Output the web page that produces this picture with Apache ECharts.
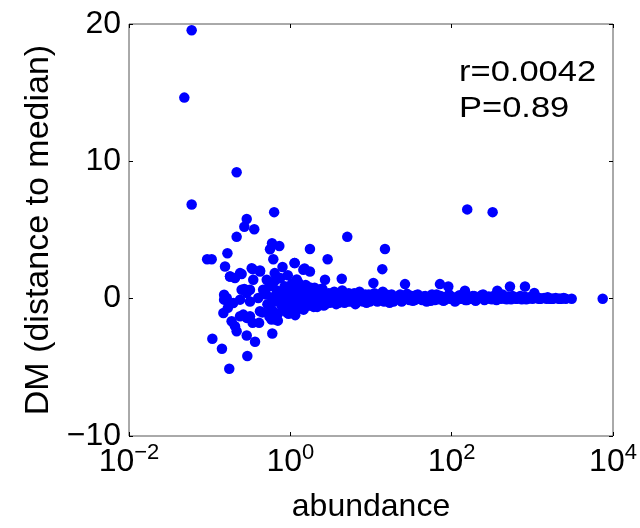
<!DOCTYPE html>
<html>
<head>
<meta charset="utf-8">
<script src="https://cdn.jsdelivr.net/npm/echarts@6/dist/echarts.min.js"></script>
<style>html,body{margin:0;padding:0;background:#fff}#c{width:640px;height:528px}</style>
</head>
<body>
<div id="c"></div>
<script>
// scattered points: abundance (x, log scale) and DM (distance to median)
var abundance = [
  0.0598, 0.0485, 0.216, 0.0598, 0.63, 0.288, 0.269, 0.357, 0.216, 5.08,
  0.593, 0.73, 0.56, 1.75, 14.9, 0.166, 0.093, 0.106, 2.9, 0.615,
  0.155, 1.13, 0.80, 13.8, 0.341, 0.421, 1.45, 1.75, 0.179, 0.206,
  0.249, 0.64, 0.66, 2.69, 4.34, 10.7, 0.316, 0.269, 0.151, 0.151,
  0.148, 0.168, 0.261, 0.316, 0.341, 0.41, 0.66, 0.187, 0.206, 0.216,
  0.597, 0.288, 0.365, 0.108, 0.142, 0.293, 0.175, 156, 322, 26.4,
  71.6, 90.8, 146, 368, 528, 811, 1057, 1507, 2128, 3076, 7450,
  0.179, 0.238, 0.332, 0.421, 0.347, 0.249, 0.288, 0.163, 0.196, 0.238,
  0.316, 0.40, 0.46, 0.51, 0.42, 0.238, 0.288, 0.585, 0.61, 1.5, 1.13,
  0.5, 0.52, 0.55, 0.58, 0.6, 0.62, 0.65, 0.68, 0.7, 0.72, 0.75, 0.78, 0.8, 0.82, 0.85, 0.88, 0.9, 0.93, 0.95, 0.98,
  1.0, 1.02, 1.05, 1.08, 1.1, 1.12, 1.15, 1.18, 1.2, 1.23, 1.26, 1.3, 1.33, 1.36, 1.4, 1.43, 1.46, 1.5, 1.55, 1.6,
  1.65, 1.7, 1.75, 1.8, 1.85, 1.9, 1.95, 2.0, 0.45, 0.55, 0.7, 0.9,
  2.1, 2.2, 2.3, 2.4, 2.5, 2.6, 2.8, 3.0, 3.1, 3.3, 3.5, 3.7, 3.9, 4.1, 4.4, 4.7, 5.0, 5.3, 5.6, 6.0,
  6.4, 6.8, 7.2, 7.7, 8.2, 8.8, 9.4, 10, 11, 12, 13, 14, 15, 16, 17, 18, 20, 22, 24, 26, 28, 30,
  32, 35, 38, 41, 45, 49, 53, 57, 62, 67, 73, 79, 86, 93, 100, 110, 120, 130, 142, 155,
  168, 182, 198, 215, 235, 255, 277, 300, 330, 360, 390, 425, 460, 500, 545, 600, 650, 710, 770, 840,
  920, 1000, 1100, 1200, 1300, 1650, 1800, 2300, 2600
];
var dm = [
  19.54, 14.64, 9.2, 6.86, 6.3, 5.8, 5.24, 5.05, 4.5, 4.5,
  4.03, 3.84, 3.6, 3.62, 3.62, 3.31, 2.87, 2.87, 2.87, 2.87,
  2.34, 2.59, 2.3, 2.15, 2.15, 2.05, 2.1, 1.98, 1.62, 1.5,
  1.79, 1.86, 1.38, 1.38, 1.45, 1.14, 0.65, 0.7, 0.29, -0.07,
  -1.04, -0.67, -1.16, -1.28, -1.76, -1.76, -1.52, -1.64, -2.0, -2.37,
  -2.54, -2.68, -3.14, -2.92, -3.65, -4.18, -5.1, 6.5, 6.3, 1.06,
  1.06, 0.89, 0.58, 0.58, 0.89, 0.89, 0.41, 0.0, 0.0, 0.0, 0.0,
  1.62, 1.86, 2.22, 1.98, 1.38, 0.65, 0.41, 0.05, -0.31, -0.07,
  -0.2, 0.05, 0.65, 1.38, -0.92, -1.28, -1.4, -1.52, -0.92, 2.2, 2.6,
  0.3, -0.4, 0.9, -0.8, 0.1, 1.2, -0.2, 0.6, -1.1, 0.2, 1.5, -0.5, 0.4, -0.1, 0.9, -0.7, 0.1, 1.7, -0.3, 0.5,
  -0.9, 0.2, 1.1, -0.4, 0.7, 0.0, -1.2, 0.3, 1.4, -0.2, 0.6, -0.6, 0.1, 0.9, -0.3, 0.4, -0.8, 0.2, 1.0, -0.1,
  0.5, -0.5, 0.15, 0.8, -0.3, 0.3, -0.6, 0.05, -1.0, -1.3, -1.6, -1.0,
  0.6, -0.4, 0.2, -0.2, 0.7, -0.5, 0.1, 0.4, -0.3, 0.0, 0.5, -0.4, 0.2, -0.1, 0.6, -0.3, 0.1, 0.4, -0.2, 0.3,
  -0.4, 0.0, 0.5, -0.1, 0.2, -0.3, 0.3, 0.0, 0.4, -0.2, 0.1, 0.5, -0.1, 0.2, -0.3, 0.3, 0.0, 0.2, -0.2, 0.1, 0.35, -0.1,
  0.2, -0.1, 0.3, 0.0, 0.15, -0.2, 0.1, 0.3, -0.1, 0.05, 0.2, -0.15, 0.1, 0.3, 0.0, -0.2, 0.15, 0.0, 0.3, -0.1,
  0.1, 0.2, -0.15, 0.05, 0.25, -0.1, 0.1, 0.0, 0.2, -0.1, 0.1, 0.3, 0.0, 0.15, -0.05, 0.1, 0.0, 0.2, 0.05, -0.05,
  0.1, 0.0, 0.05, 0.0, 0.02, 0.0, 0.0, 0.0, 0.0
];
// dense band of points near DM = 0
var bandAbundance = [
  1.01, 1.04, 1.07, 1.11, 1.14, 1.17, 1.21, 1.25, 1.28, 1.32, 1.35, 1.39, 1.42, 1.47, 1.52, 1.57, 1.62, 1.67, 1.72, 1.78,
  1.83, 1.88, 1.93, 1.98, 2.05, 2.15, 2.25, 2.35, 2.45, 2.55, 2.65, 2.75, 2.85, 2.95,
  3.2, 3.4, 3.6, 3.8, 4.0, 4.2, 4.5, 4.8, 5.1, 5.4, 5.8, 6.2, 6.6, 7.0, 7.5, 8.0, 8.5, 9.1, 9.7, 10.5,
  11.5, 12.5, 13.5, 14.5, 15.5, 16.5, 17.5, 19, 21, 23, 25, 27, 29,
  31, 33, 36, 39, 43, 47, 51, 55, 60, 65, 70, 76, 82, 89, 96, 105, 115, 125, 136, 148,
  160, 175, 190, 206, 225, 245, 265, 288, 315, 345, 375, 410, 445, 480, 520, 570, 620, 680, 740, 800,
  880, 960, 1050, 1150, 1250, 1400, 1550, 1750, 1950, 2200, 2450,
  1.3, 1.6, 2.0, 2.4, 0.95, 1.15
];
var bandDm = [
  0.4, -0.6, 0.8, -0.2, 0.5, -0.9, 0.1, 1.2, -0.4, 0.6, -0.1, 0.3, -0.7, 0.9, -0.3, 0.4, -0.5, 0.7, 0.0, -0.4,
  0.5, -0.2, 0.6, -0.3, 0.3, -0.6, 0.5, 0.0, -0.3, 0.4, 0.1, -0.4, 0.3, -0.1,
  0.3, -0.2, 0.1, 0.4, -0.3, 0.2, 0.0, 0.3, -0.2, 0.2, -0.1, 0.4, -0.3, 0.2, 0.0, -0.2, 0.3, 0.1, -0.2, 0.2,
  -0.1, 0.3, 0.0, -0.2, 0.3, 0.0, 0.2, -0.2, 0.1, 0.3, -0.1, 0.2, 0.0,
  0.1, -0.15, 0.25, 0.0, -0.1, 0.2, 0.0, -0.15, 0.15, 0.3, -0.05, 0.1, -0.1, 0.2, 0.0, 0.1, -0.1, 0.25, 0.0, -0.1,
  0.15, 0.0, 0.2, -0.05, 0.1, 0.3, 0.0, 0.15, -0.05, 0.1, 0.2, 0.0, 0.15, -0.05, 0.1, 0.2, 0.0, 0.1, -0.05, 0.15,
  0.0, 0.1, 0.05, 0.1, 0.0, 0.05, 0.1, 0.0, 0.05, 0.0, 0.05,
  1.0, 0.9, 0.8, 0.7, -1.1, -0.9
];
var statText = ['r=0.0042', 'P=0.89'];
var xName = 'abundance';
var yName = 'DM (distance to median)';

var points = abundance.map(function (a, i) { return [a, dm[i]]; })
  .concat(bandAbundance.map(function (a, i) { return [a, bandDm[i]]; }));
var FONT = 'Liberation Sans, Arial, Helvetica, sans-serif';

function expLabel(v) {
  var e = Math.round(Math.log(v) / Math.LN10);
  var s = e < 0 ? '\u2212' + (-e) : String(e);
  return '{b|10}{s|' + s + '}';
}

var chart = echarts.init(document.getElementById('c'), null, { renderer: 'canvas' });
chart.setOption({
  animation: false,
  backgroundColor: '#fff',
  grid: { left: 129, right: 27, top: 24, bottom: 89, show: true, borderColor: '#555', borderWidth: 1, backgroundColor: 'transparent' },
  xAxis: [{
    type: 'log', logBase: 10, min: 0.01, max: 10000, interval: 2,
    name: xName, nameLocation: 'middle', nameGap: 55,
    nameTextStyle: { fontFamily: FONT, fontSize: 32, color: '#000' },
    axisLine: { show: false, onZero: false },
    axisTick: { show: true, inside: true, length: 4, lineStyle: { color: '#000' } },
    minorTick: { show: false },
    splitLine: { show: false },
    axisLabel: {
      formatter: expLabel, margin: 6,
      rich: {
        b: { fontFamily: FONT, fontSize: 32, color: '#000', lineHeight: 36, verticalAlign: 'bottom' },
        s: { fontFamily: FONT, fontSize: 22, color: '#000', lineHeight: 36, verticalAlign: 'top', padding: [0, 0, 14, 0] }
      }
    }
  }, {
    type: 'log', logBase: 10, min: 0.01, max: 10000, interval: 2, position: 'top',
    axisLine: { show: false, onZero: false }, axisLabel: { show: false }, splitLine: { show: false },
    axisTick: { show: true, inside: true, length: 4, lineStyle: { color: '#000' } }
  }],
  yAxis: [{
    type: 'value', min: -10, max: 20, interval: 10,
    name: yName, nameLocation: 'middle', nameGap: 73, nameRotate: 90,
    nameTextStyle: { fontFamily: FONT, fontSize: 34, color: '#000' },
    axisLine: { show: false, onZero: false },
    axisTick: { show: true, inside: true, length: 4, lineStyle: { color: '#000' } },
    splitLine: { show: false },
    axisLabel: {
      fontFamily: FONT, fontSize: 32, color: '#000', margin: 8,
      formatter: function (v) { return String(v).replace('-', '\u2212'); }
    }
  }, {
    type: 'value', min: -10, max: 20, interval: 10, position: 'right',
    axisLine: { show: false, onZero: false }, axisLabel: { show: false }, splitLine: { show: false },
    axisTick: { show: true, inside: true, length: 4, lineStyle: { color: '#000' } }
  }],
  graphic: [{
    type: 'text', left: 459, top: 55, scaleX: 1.15,
    style: { text: statText.join('\n'), font: '30px ' + FONT, fill: '#000', lineHeight: 36 }
  }],
  series: [{
    type: 'scatter', xAxisIndex: 0, yAxisIndex: 0,
    data: points, symbol: 'circle', symbolSize: 10.5,
    itemStyle: { color: '#0000ff', opacity: 1 }
  }]
});
</script>
</body>
</html>
